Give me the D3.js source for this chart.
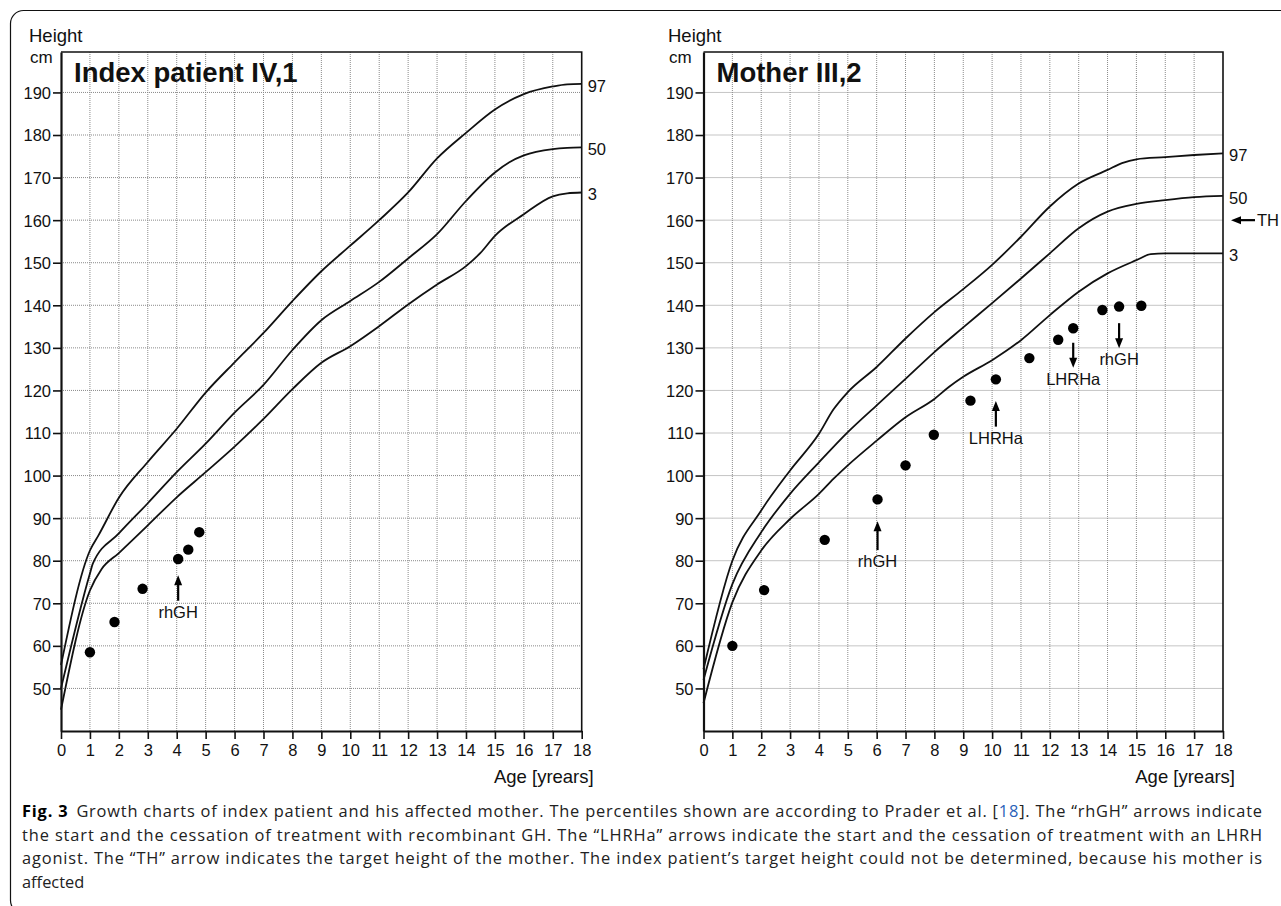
<!DOCTYPE html>
<html>
<head>
<meta charset="utf-8">
<script src="https://cdn.jsdelivr.net/npm/d3@7"></script>
<style>
  body { margin: 0; background: #fff; }
  svg { display: block; }
  .lab { font-family: "Liberation Sans", Arial, sans-serif; fill: #111; }
  .cap { font-family: "Open Sans", "Noto Sans", sans-serif; font-size: 16.4px; fill: #222; }
</style>
</head>
<body>
<div id="chart"></div>
<script>
// percentile curves, [age, cm]
const boysP97 = [[0,55.5],[1,82.4],[1.3,86],[2,94.8],[3,103.2],[4,111],[5,119.5],[6,126.6],[7,133.5],[8,141],[9,148],[10,154],[11,160],[12,166.5],[13,174.5],[14,180.5],[15,186],[16,189.6],[17,191.4],[17.5,191.9],[18,192]];
const boysP50 = [[0,50],[1,77],[1.1,79.3],[2,86.4],[3,93.5],[4,100.8],[5,107.5],[6,114.8],[7,121.3],[8,129.5],[9,136.5],[10,141],[11,145.5],[12,151],[13,156.7],[14,164.5],[15,171.2],[15.5,173.6],[16,175.2],[17,176.7],[17.5,177],[18,177.1]];
const boysP3 = [[0,45],[1,73],[1.4,78],[2,81.8],[3,88.3],[4,94.9],[5,100.8],[6,106.8],[7,113.3],[8,120.3],[9,126.5],[10,130.4],[11,135.1],[12,140.2],[13,144.9],[14,149.2],[14.5,152.3],[15,156.3],[16,161.4],[17,165.6],[17.5,166.3],[18,166.5]];

const girlsP97 = [[0,54.5],[1,80],[2,91.8],[3,101.2],[4,109.8],[4.5,115.5],[5,119.6],[6,125.5],[7,132.2],[8,138.4],[9,143.8],[10,149.5],[11,156.1],[12,163.2],[13,168.6],[14,171.8],[14.5,173.4],[15,174.3],[16,174.8],[17,175.3],[18,175.7]];
const girlsP50 = [[0,52],[1,74.5],[2,86.7],[3,95.7],[4,103.1],[5,110.2],[6,116.5],[7,122.7],[8,129],[9,134.8],[10,140.5],[11,146.3],[12,152.2],[13,158.1],[14,162],[15,163.8],[16,164.7],[17,165.4],[18,165.7]];
const girlsP3 = [[0,46.5],[1,70.2],[2,82.4],[3,89.8],[4,95.7],[4.5,99.2],[5,102.4],[6,108.2],[7,113.7],[8,118],[8.5,120.8],[9,123.2],[10,127.1],[11,131.8],[12,137.7],[13,143.2],[14,147.5],[15,150.6],[15.5,152],[16,152.2],[17,152.2],[18,152.2]];

// measured heights
const patientAge = [1.0, 1.85, 2.82, 4.05, 4.4, 4.78];
const patientHeight = [58.5, 65.6, 73.4, 80.4, 82.6, 86.7];
const motherAge = [1.0, 2.1, 4.2, 6.03, 7.0, 7.98, 9.25, 10.13, 11.29, 12.29, 12.81, 13.82, 14.4, 15.17];
const motherHeight = [60, 73.1, 84.9, 94.4, 102.4, 109.6, 117.6, 122.6, 127.6, 131.9, 134.6, 138.9, 139.7, 139.9];

// treatment arrows: age, cm at lower end, cm at upper end, direction, label
const patientArrows = [[4.05, 70.6, 76.6, "up", "rhGH"]];
const motherArrows = [
  [6.03, 82.5, 89.3, "up", "rhGH"],
  [10.13, 111.5, 117.5, "up", "LHRHa"],
  [12.81, 125.3, 131.2, "down", "LHRHa"],
  [14.4, 129.9, 135.8, "down", "rhGH"]
];

const percentileLabels = ["97", "50", "3"];
const xTicks = d3.range(0, 19);
const yTicks = d3.range(50, 191, 10);
const targetHeight = 160;

const W = 1281, H = 906;
const svg = d3.select('#chart').append('svg')
  .attr('width', W)
  .attr('height', H);

// outer frame
svg.append('rect')
  .attr('x', 10.5).attr('y', 10.5)
  .attr('width', 1290).attr('height', 903)
  .attr('rx', 13)
  .attr('fill', 'none')
  .attr('stroke', '#111')
  .attr('stroke-width', 1.2);

function drawPanel(opt) {
  const x = d3.scaleLinear().domain([0, 18]).range([opt.left, opt.right]);
  const y = d3.scaleLinear().domain([40, 199.5]).range([731, 52]);
  const g = svg.append('g');

  // grid
  g.append('g').selectAll('line')
    .data(xTicks.slice(1, 18))
    .enter().append('line')
    .attr('x1', d => x(d)).attr('x2', d => x(d))
    .attr('y1', y(40)).attr('y2', y(199.5))
    .attr('stroke', '#8a8a8a').attr('stroke-width', 1)
    .attr('stroke-dasharray', '1,1');
  g.append('g').selectAll('line')
    .data(yTicks)
    .enter().append('line')
    .attr('x1', x(0)).attr('x2', x(18))
    .attr('y1', d => y(d)).attr('y2', d => y(d))
    .attr('stroke', '#8a8a8a').attr('stroke-width', 1)
    .attr('stroke-dasharray', '1,1');

  // top and right frame
  g.append('path')
    .attr('d', `M${x(0)},${y(199.5)}H${x(18)}V${y(40)}`)
    .attr('fill', 'none').attr('stroke', '#111').attr('stroke-width', 1.6);

  const xAxis = d3.axisBottom(x).tickValues(xTicks).tickSize(8).tickSizeOuter(0).tickPadding(5);
  const yAxis = d3.axisLeft(y).tickValues(yTicks).tickSize(8).tickSizeOuter(0).tickPadding(2);

  const gx = g.append('g').attr('transform', `translate(0,${y(40)})`).call(xAxis);
  const gy = g.append('g').attr('transform', `translate(${x(0)},0)`).call(yAxis);
  [gx, gy].forEach(a => {
    a.attr('font-size', null).attr('font-family', null);
    a.select('.domain').attr('stroke', '#111').attr('stroke-width', 2.2);
    a.selectAll('.tick line').attr('stroke', '#111').attr('stroke-width', 1.6);
    a.selectAll('.tick text')
      .style('font-family', '"Liberation Sans", Arial, sans-serif')
      .style('font-size', '16.5px')
      .attr('fill', '#111');
  });
  gy.selectAll('.tick text').attr('dy', '0.36em');
  gx.selectAll('.tick text').attr('dy', '0.75em');

  // percentile curves
  const line = d3.line()
    .x(d => x(d[0]))
    .y(d => y(d[1]))
    .curve(d3.curveMonotoneX);
  opt.curves.forEach((c, i) => {
    g.append('path')
      .datum(c)
      .attr('d', line)
      .attr('fill', 'none')
      .attr('stroke', '#111')
      .attr('stroke-width', 1.8);
    const last = c[c.length - 1];
    g.append('text')
      .attr('class', 'lab')
      .attr('x', x(18) + 6)
      .attr('y', y(last[1]) + 2)
      .attr('dominant-baseline', 'central')
      .style('font-size', '16.5px')
      .text(percentileLabels[i]);
  });

  // points
  g.append('g').selectAll('circle')
    .data(opt.ages.map((a, i) => [a, opt.heights[i]]))
    .enter().append('circle')
    .attr('cx', d => x(d[0]))
    .attr('cy', d => y(d[1]))
    .attr('r', 5.2)
    .attr('fill', '#000');

  // arrows
  opt.arrows.forEach(a => {
    const ax = x(a[0]);
    const yLow = y(a[1]), yHigh = y(a[2]);
    const tip = a[3] === 'up' ? yHigh : yLow;
    const tail = a[3] === 'up' ? yLow : yHigh;
    const dir = a[3] === 'up' ? 1 : -1;
    g.append('line')
      .attr('x1', ax).attr('x2', ax)
      .attr('y1', tail).attr('y2', tip + dir * 6)
      .attr('stroke', '#000').attr('stroke-width', 2.2);
    g.append('path')
      .attr('d', `M${ax},${tip}L${ax - 4},${tip + dir * 10}L${ax + 4},${tip + dir * 10}Z`)
      .attr('fill', '#000');
    g.append('text')
      .attr('class', 'lab')
      .attr('x', ax)
      .attr('y', yLow + 17)
      .attr('text-anchor', 'middle')
      .style('font-size', '16.5px')
      .text(a[4]);
  });

  // titles and axis names
  g.append('text').attr('class', 'lab')
    .attr('x', opt.labelX).attr('y', 42)
    .style('font-size', '18.5px')
    .text('Height');
  g.append('text').attr('class', 'lab')
    .attr('x', opt.labelX + 1).attr('y', 63)
    .style('font-size', '17px')
    .text('cm');
  g.append('text').attr('class', 'lab')
    .attr('x', x(0) + 13).attr('y', 82)
    .style('font-size', '27.5px')
    .style('font-weight', 'bold')
    .text(opt.title);
  g.append('text').attr('class', 'lab')
    .attr('x', x(18) + 12).attr('y', 783)
    .attr('text-anchor', 'end')
    .style('font-size', '18.5px')
    .text('Age [yrears]');

  return { x, y, g };
}

drawPanel({
  left: 61, right: 581.7, labelX: 29,
  title: 'Index patient IV,1',
  curves: [boysP97, boysP50, boysP3],
  ages: patientAge, heights: patientHeight,
  arrows: patientArrows
});

const mother = drawPanel({
  left: 703.5, right: 1223, labelX: 668,
  title: 'Mother III,2',
  curves: [girlsP97, girlsP50, girlsP3],
  ages: motherAge, heights: motherHeight,
  arrows: motherArrows
});

// target height arrow
const thY = mother.y(targetHeight);
mother.g.append('line')
  .attr('x1', 1238).attr('x2', 1255)
  .attr('y1', thY).attr('y2', thY)
  .attr('stroke', '#000').attr('stroke-width', 2.2);
mother.g.append('path')
  .attr('d', `M1231,${thY}L1241,${thY - 4}L1241,${thY + 4}Z`)
  .attr('fill', '#000');
mother.g.append('text').attr('class', 'lab')
  .attr('x', 1257).attr('y', thY)
  .attr('dominant-baseline', 'central')
  .style('font-size', '16.5px')
  .text('TH');

// caption
const capLines = [
  [['Fig. 3', 'bold'], ['Growth charts of index patient and his affected mother. The percentiles shown are according to Prader et al. [', 'gap'], ['18', 'ref'], ['].  The \u201crhGH\u201d arrows indicate', '']],
  [['the start and the cessation of treatment with recombinant GH. The \u201cLHRHa\u201d arrows indicate the start and the cessation of treatment with an LHRH', '']],
  [['agonist. The \u201cTH\u201d arrow indicates the target height of the mother. The index patient\u2019s target height could not be determined, because his mother is', '']],
  [['affected', '']]
];
capLines.forEach((ln, i) => {
  const t = svg.append('text')
    .attr('class', 'cap')
    .attr('x', 22)
    .attr('y', 817 + i * 23.5);
  if (i < 3) t.attr('textLength', 1240).attr('lengthAdjust', 'spacing');
  ln.forEach(p => {
    const s = t.append('tspan').text(p[0]);
    if (p[1] === 'bold') s.style('font-weight', 'bold').style('fill', '#000');
    if (p[1] === 'gap') s.attr('dx', 8);
    if (p[1] === 'ref') s.style('fill', '#2a62b8');
  });
});
</script>
</body>
</html>
